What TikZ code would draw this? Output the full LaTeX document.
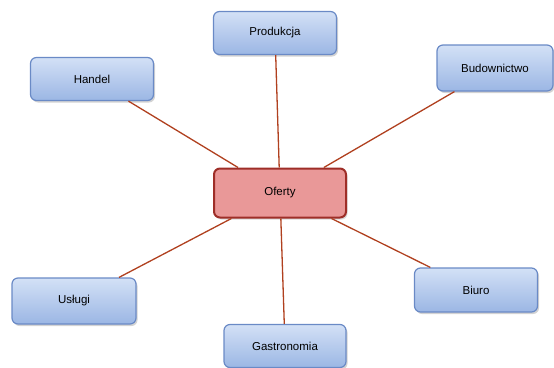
\documentclass[tikz,border=0pt]{standalone}
\usepackage{fontspec}
\setmainfont{Liberation Sans}
\usepackage{tikz}
\usetikzlibrary{shadows}

\definecolor{boxtop}{HTML}{D3E1F6}
\definecolor{boxbottom}{HTML}{9BB6E4}
\definecolor{boxline}{HTML}{6A8AC6}
\definecolor{hubfill}{HTML}{E99898}
\definecolor{hubline}{HTML}{9E2E28}
\definecolor{linkline}{HTML}{B0401F}

\tikzset{
    topic/.style={shape=rectangle, rounded corners=6pt, draw=boxline, line width=1.2pt,
        top color=boxtop, bottom color=boxbottom,
        minimum width=123pt, minimum height=43pt, inner sep=0pt,
        font=\fontsize{11.5}{13}\selectfont,
        drop shadow={opacity=0.35, shadow xshift=1.5pt, shadow yshift=-2pt}},
    hub/.style={shape=rectangle, rounded corners=6pt, draw=hubline, line width=2pt,
        fill=hubfill, minimum width=132pt, minimum height=49pt, inner sep=0pt,
        font=\fontsize{11.5}{13}\selectfont,
        drop shadow={opacity=0.3, shadow xshift=1.5pt, shadow yshift=-2pt}},
    link/.style={draw=linkline, line width=1.3pt}
}

\begin{document}
\begin{tikzpicture}[x=1pt, y=-1pt]
        \useasboundingbox (0,0) rectangle (554,367);
        \node[hub] (O) at (280,193) {Oferty};
        \node[topic] (P) at (275,33) {Produkcja};
        \node[topic] (H) at (92,79) {Handel};
        \node[topic, minimum width=116pt, minimum height=46pt] (B) at (495,68) {Budownictwo};
        \node[topic, minimum width=124pt, minimum height=46pt] (U) at (74,301) {Usługi};
        \node[topic, minimum height=44pt] (Bi) at (476,290) {Biuro};
        \node[topic, minimum width=122pt] (G) at (285,346) {Gastronomia};

        \path [link] (H) edge (O);
        \path [link] (P) edge (O);
        \path [link] (B) edge (O);
        \path [link] (U) edge (O);
        \path [link] (G) edge (O);
        \path [link] (Bi) edge (O);
    \end{tikzpicture}
\end{document}
